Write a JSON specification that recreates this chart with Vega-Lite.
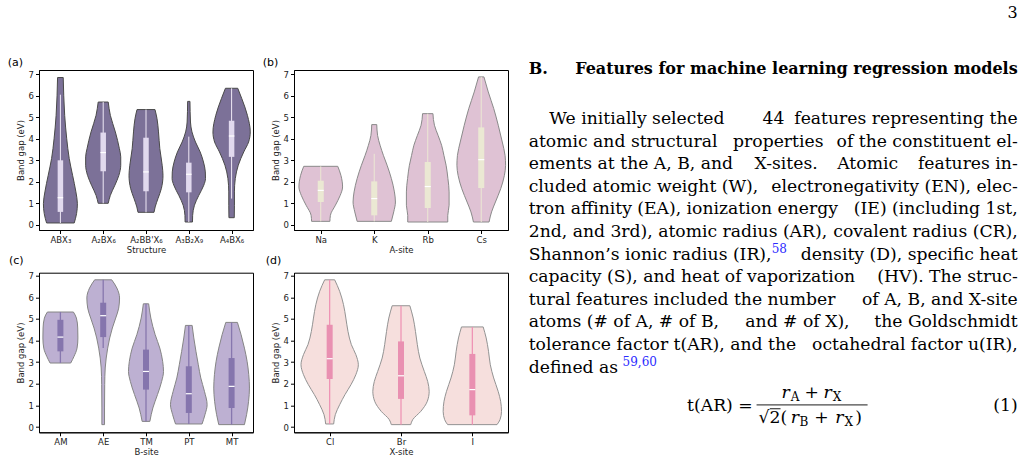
{
  "$schema": "https://vega.github.io/schema/vega-lite/v6.json",
  "background": "white",
  "padding": {"left": 7, "top": 5, "right": 0, "bottom": 0},
  "bounds": "flush",
  "columns": 3,
  "spacing": {"row": 42.7, "column": 41},
  "config": {
    "font": "DejaVu Sans",
    "view": {"stroke": "black", "strokeWidth": 1},
    "axis": {
      "grid": false, "domainColor": "black", "domainWidth": 1, "labelOverlap": false,
      "tickColor": "black", "tickWidth": 1, "tickSize": 3.5,
      "labelFont": "DejaVu Sans", "labelFontSize": 8.5, "labelColor": "#222222", "labelPadding": 2,
      "titleFont": "DejaVu Sans", "titleFontSize": 8.5, "titleFontWeight": "normal", "titleColor": "#222222"
    },
    "axisY": {"titlePadding": 3},
    "axisX": {"titlePadding": 1},
    "title": {"font": "DejaVu Sans", "fontSize": 11, "fontWeight": "normal", "anchor": "start", "frame": "group", "color": "black"}
  },
  "datasets": {
    "violin": [
      {"p":"a","c":0,"v":0.085,"lo":-0.323,"hi":0.323},{"p":"a","c":0,"v":0.52,"lo":-0.378,"hi":0.378},{"p":"a","c":0,"v":0.98,"lo":-0.397,"hi":0.397},{"p":"a","c":0,"v":1.53,"lo":-0.362,"hi":0.362},{"p":"a","c":0,"v":2.3,"lo":-0.285,"hi":0.285},{"p":"a","c":0,"v":3.08,"lo":-0.206,"hi":0.206},{"p":"a","c":0,"v":4.0,"lo":-0.148,"hi":0.148},{"p":"a","c":0,"v":5.09,"lo":-0.1,"hi":0.1},{"p":"a","c":0,"v":6.0,"lo":-0.078,"hi":0.078},{"p":"a","c":0,"v":6.85,"lo":-0.066,"hi":0.066},
      {"p":"a","c":1,"v":1.0,"lo":0.883,"hi":1.117},{"p":"a","c":1,"v":1.37,"lo":0.833,"hi":1.167},{"p":"a","c":1,"v":1.84,"lo":0.727,"hi":1.273},{"p":"a","c":1,"v":2.3,"lo":0.634,"hi":1.366},{"p":"a","c":1,"v":2.77,"lo":0.59,"hi":1.41},{"p":"a","c":1,"v":3.16,"lo":0.59,"hi":1.41},{"p":"a","c":1,"v":3.54,"lo":0.622,"hi":1.378},{"p":"a","c":1,"v":4.32,"lo":0.716,"hi":1.284},{"p":"a","c":1,"v":5.09,"lo":0.833,"hi":1.167},{"p":"a","c":1,"v":5.71,"lo":0.883,"hi":1.117},
      {"p":"a","c":2,"v":0.58,"lo":1.813,"hi":2.187},{"p":"a","c":2,"v":0.83,"lo":1.786,"hi":2.214},{"p":"a","c":2,"v":1.22,"lo":1.72,"hi":2.28},{"p":"a","c":2,"v":1.68,"lo":1.642,"hi":2.358},{"p":"a","c":2,"v":2.3,"lo":1.603,"hi":2.397},{"p":"a","c":2,"v":2.77,"lo":1.622,"hi":2.378},{"p":"a","c":2,"v":3.54,"lo":1.677,"hi":2.323},{"p":"a","c":2,"v":4.32,"lo":1.708,"hi":2.292},{"p":"a","c":2,"v":4.94,"lo":1.743,"hi":2.257},{"p":"a","c":2,"v":5.36,"lo":1.79,"hi":2.21},
      {"p":"a","c":3,"v":0.13,"lo":2.914,"hi":3.086},{"p":"a","c":3,"v":0.44,"lo":2.91,"hi":3.09},{"p":"a","c":3,"v":0.91,"lo":2.868,"hi":3.132},{"p":"a","c":3,"v":1.37,"lo":2.766,"hi":3.234},{"p":"a","c":3,"v":1.84,"lo":2.65,"hi":3.35},{"p":"a","c":3,"v":2.15,"lo":2.61,"hi":3.39},{"p":"a","c":3,"v":2.46,"lo":2.614,"hi":3.386},{"p":"a","c":3,"v":2.92,"lo":2.657,"hi":3.343},{"p":"a","c":3,"v":3.39,"lo":2.735,"hi":3.265},{"p":"a","c":3,"v":3.85,"lo":2.844,"hi":3.156},{"p":"a","c":3,"v":4.32,"lo":2.926,"hi":3.074},{"p":"a","c":3,"v":4.78,"lo":2.961,"hi":3.039},{"p":"a","c":3,"v":5.74,"lo":2.973,"hi":3.027},
      {"p":"a","c":4,"v":0.33,"lo":3.938,"hi":4.062},{"p":"a","c":4,"v":0.91,"lo":3.934,"hi":4.066},{"p":"a","c":4,"v":1.53,"lo":3.934,"hi":4.066},{"p":"a","c":4,"v":2.15,"lo":3.914,"hi":4.086},{"p":"a","c":4,"v":2.77,"lo":3.844,"hi":4.156},{"p":"a","c":4,"v":3.39,"lo":3.716,"hi":4.284},{"p":"a","c":4,"v":3.85,"lo":3.603,"hi":4.397},{"p":"a","c":4,"v":4.32,"lo":3.564,"hi":4.436},{"p":"a","c":4,"v":5.09,"lo":3.63,"hi":4.37},{"p":"a","c":4,"v":5.87,"lo":3.762,"hi":4.238},{"p":"a","c":4,"v":6.35,"lo":3.856,"hi":4.144},

      {"p":"b","c":0,"v":0.16,"lo":-0.171,"hi":0.171},{"p":"b","c":0,"v":0.44,"lo":-0.18,"hi":0.18},{"p":"b","c":0,"v":0.91,"lo":-0.274,"hi":0.274},{"p":"b","c":0,"v":1.37,"lo":-0.364,"hi":0.364},{"p":"b","c":0,"v":1.76,"lo":-0.408,"hi":0.408},{"p":"b","c":0,"v":2.3,"lo":-0.377,"hi":0.377},{"p":"b","c":0,"v":2.72,"lo":-0.318,"hi":0.318},
      {"p":"b","c":1,"v":0.16,"lo":0.68,"hi":1.32},{"p":"b","c":1,"v":0.6,"lo":0.636,"hi":1.364},{"p":"b","c":1,"v":1.06,"lo":0.604,"hi":1.396},{"p":"b","c":1,"v":1.53,"lo":0.623,"hi":1.377},{"p":"b","c":1,"v":2.15,"lo":0.68,"hi":1.32},{"p":"b","c":1,"v":2.77,"lo":0.76,"hi":1.24},{"p":"b","c":1,"v":3.23,"lo":0.829,"hi":1.171},{"p":"b","c":1,"v":3.7,"lo":0.891,"hi":1.109},{"p":"b","c":1,"v":4.16,"lo":0.938,"hi":1.062},{"p":"b","c":1,"v":4.66,"lo":0.953,"hi":1.047},
      {"p":"b","c":2,"v":0.13,"lo":1.626,"hi":2.374},{"p":"b","c":2,"v":0.44,"lo":1.626,"hi":2.374},{"p":"b","c":2,"v":0.91,"lo":1.601,"hi":2.399},{"p":"b","c":2,"v":1.53,"lo":1.601,"hi":2.399},{"p":"b","c":2,"v":2.15,"lo":1.623,"hi":2.377},{"p":"b","c":2,"v":2.77,"lo":1.657,"hi":2.343},{"p":"b","c":2,"v":3.23,"lo":1.698,"hi":2.302},{"p":"b","c":2,"v":3.7,"lo":1.741,"hi":2.259},{"p":"b","c":2,"v":4.16,"lo":1.807,"hi":2.193},{"p":"b","c":2,"v":4.63,"lo":1.875,"hi":2.125},{"p":"b","c":2,"v":5.17,"lo":1.903,"hi":2.097},
      {"p":"b","c":3,"v":0.13,"lo":2.854,"hi":3.146},{"p":"b","c":3,"v":0.6,"lo":2.807,"hi":3.193},{"p":"b","c":3,"v":1.06,"lo":2.735,"hi":3.265},{"p":"b","c":3,"v":1.68,"lo":2.636,"hi":3.364},{"p":"b","c":3,"v":2.3,"lo":2.567,"hi":3.433},{"p":"b","c":3,"v":2.77,"lo":2.545,"hi":3.455},{"p":"b","c":3,"v":3.23,"lo":2.555,"hi":3.445},{"p":"b","c":3,"v":3.85,"lo":2.607,"hi":3.393},{"p":"b","c":3,"v":4.63,"lo":2.682,"hi":3.318},{"p":"b","c":3,"v":5.4,"lo":2.766,"hi":3.234},{"p":"b","c":3,"v":6.18,"lo":2.869,"hi":3.131},{"p":"b","c":3,"v":6.88,"lo":2.95,"hi":3.05},

      {"p":"c","c":0,"v":2.96,"lo":-0.241,"hi":0.241},{"p":"c","c":0,"v":3.27,"lo":-0.319,"hi":0.319},{"p":"c","c":0,"v":3.65,"lo":-0.389,"hi":0.389},{"p":"c","c":0,"v":4.12,"lo":-0.409,"hi":0.409},{"p":"c","c":0,"v":4.58,"lo":-0.405,"hi":0.405},{"p":"c","c":0,"v":5.04,"lo":-0.374,"hi":0.374},{"p":"c","c":0,"v":5.32,"lo":-0.304,"hi":0.304},
      {"p":"c","c":1,"v":0.11,"lo":0.969,"hi":1.031},{"p":"c","c":1,"v":0.88,"lo":0.969,"hi":1.031},{"p":"c","c":1,"v":1.96,"lo":0.965,"hi":1.035},{"p":"c","c":1,"v":2.73,"lo":0.953,"hi":1.047},{"p":"c","c":1,"v":3.19,"lo":0.93,"hi":1.07},{"p":"c","c":1,"v":3.65,"lo":0.895,"hi":1.105},{"p":"c","c":1,"v":4.12,"lo":0.848,"hi":1.152},{"p":"c","c":1,"v":4.58,"lo":0.786,"hi":1.214},{"p":"c","c":1,"v":5.04,"lo":0.708,"hi":1.292},{"p":"c","c":1,"v":5.5,"lo":0.638,"hi":1.362},{"p":"c","c":1,"v":5.97,"lo":0.618,"hi":1.382},{"p":"c","c":1,"v":6.43,"lo":0.681,"hi":1.319},{"p":"c","c":1,"v":6.81,"lo":0.801,"hi":1.199},
      {"p":"c","c":2,"v":0.26,"lo":1.91,"hi":2.09},{"p":"c","c":2,"v":0.88,"lo":1.84,"hi":2.16},{"p":"c","c":2,"v":1.5,"lo":1.731,"hi":2.269},{"p":"c","c":2,"v":2.11,"lo":1.634,"hi":2.366},{"p":"c","c":2,"v":2.57,"lo":1.591,"hi":2.409},{"p":"c","c":2,"v":3.04,"lo":1.611,"hi":2.389},{"p":"c","c":2,"v":3.65,"lo":1.677,"hi":2.323},{"p":"c","c":2,"v":4.27,"lo":1.786,"hi":2.214},{"p":"c","c":2,"v":5.04,"lo":1.887,"hi":2.113},{"p":"c","c":2,"v":5.7,"lo":1.938,"hi":2.062},
      {"p":"c","c":3,"v":0.14,"lo":2.69,"hi":3.31},{"p":"c","c":3,"v":0.57,"lo":2.622,"hi":3.378},{"p":"c","c":3,"v":1.03,"lo":2.572,"hi":3.428},{"p":"c","c":3,"v":1.65,"lo":2.634,"hi":3.366},{"p":"c","c":3,"v":2.27,"lo":2.72,"hi":3.28},{"p":"c","c":3,"v":2.88,"lo":2.778,"hi":3.222},{"p":"c","c":3,"v":3.5,"lo":2.833,"hi":3.167},{"p":"c","c":3,"v":4.12,"lo":2.883,"hi":3.117},{"p":"c","c":3,"v":4.7,"lo":2.922,"hi":3.078},
      {"p":"c","c":4,"v":0.11,"lo":3.7,"hi":4.3},{"p":"c","c":4,"v":0.57,"lo":3.65,"hi":4.35},{"p":"c","c":4,"v":1.19,"lo":3.603,"hi":4.397},{"p":"c","c":4,"v":1.8,"lo":3.583,"hi":4.417},{"p":"c","c":4,"v":2.42,"lo":3.599,"hi":4.401},{"p":"c","c":4,"v":3.04,"lo":3.638,"hi":4.362},{"p":"c","c":4,"v":3.65,"lo":3.7,"hi":4.3},{"p":"c","c":4,"v":4.27,"lo":3.778,"hi":4.222},{"p":"c","c":4,"v":4.84,"lo":3.864,"hi":4.136},

      {"p":"d","c":0,"v":0.14,"lo":-0.056,"hi":0.056},{"p":"d","c":0,"v":0.57,"lo":-0.079,"hi":0.079},{"p":"d","c":0,"v":1.03,"lo":-0.14,"hi":0.14},{"p":"d","c":0,"v":1.5,"lo":-0.215,"hi":0.215},{"p":"d","c":0,"v":1.96,"lo":-0.299,"hi":0.299},{"p":"d","c":0,"v":2.42,"lo":-0.367,"hi":0.367},{"p":"d","c":0,"v":2.88,"lo":-0.402,"hi":0.402},{"p":"d","c":0,"v":3.35,"lo":-0.367,"hi":0.367},{"p":"d","c":0,"v":3.81,"lo":-0.304,"hi":0.304},{"p":"d","c":0,"v":4.42,"lo":-0.257,"hi":0.257},{"p":"d","c":0,"v":5.04,"lo":-0.227,"hi":0.227},{"p":"d","c":0,"v":5.66,"lo":-0.194,"hi":0.194},{"p":"d","c":0,"v":6.28,"lo":-0.14,"hi":0.14},{"p":"d","c":0,"v":6.81,"lo":-0.07,"hi":0.07},
      {"p":"d","c":1,"v":0.11,"lo":0.864,"hi":1.136},{"p":"d","c":1,"v":0.34,"lo":0.836,"hi":1.164},{"p":"d","c":1,"v":0.72,"lo":0.724,"hi":1.276},{"p":"d","c":1,"v":1.19,"lo":0.631,"hi":1.369},{"p":"d","c":1,"v":1.65,"lo":0.605,"hi":1.395},{"p":"d","c":1,"v":2.11,"lo":0.626,"hi":1.374},{"p":"d","c":1,"v":2.57,"lo":0.673,"hi":1.327},{"p":"d","c":1,"v":3.19,"lo":0.736,"hi":1.264},{"p":"d","c":1,"v":3.81,"lo":0.771,"hi":1.229},{"p":"d","c":1,"v":4.42,"lo":0.797,"hi":1.203},{"p":"d","c":1,"v":5.04,"lo":0.829,"hi":1.171},{"p":"d","c":1,"v":5.61,"lo":0.876,"hi":1.124},
      {"p":"d","c":2,"v":0.11,"lo":1.654,"hi":2.346},{"p":"d","c":2,"v":0.34,"lo":1.612,"hi":2.388},{"p":"d","c":2,"v":0.72,"lo":1.591,"hi":2.409},{"p":"d","c":2,"v":1.19,"lo":1.603,"hi":2.397},{"p":"d","c":2,"v":1.65,"lo":1.638,"hi":2.362},{"p":"d","c":2,"v":2.27,"lo":1.701,"hi":2.299},{"p":"d","c":2,"v":2.88,"lo":1.748,"hi":2.252},{"p":"d","c":2,"v":3.5,"lo":1.773,"hi":2.227},{"p":"d","c":2,"v":4.12,"lo":1.806,"hi":2.194},{"p":"d","c":2,"v":4.63,"lo":1.848,"hi":2.152}
    ],
    "box": [
      {"p":"a","c":0,"q1":0.6,"q3":3.0,"med":1.26,"wlo":0.085,"whi":6.05},
      {"p":"a","c":1,"q1":2.49,"q3":4.29,"med":3.36,"wlo":1.0,"whi":5.71},
      {"p":"a","c":2,"q1":1.56,"q3":4.05,"med":2.46,"wlo":0.58,"whi":5.36},
      {"p":"a","c":3,"q1":1.51,"q3":2.89,"med":2.35,"wlo":0.13,"whi":4.1},
      {"p":"a","c":4,"q1":3.16,"q3":4.84,"med":4.13,"wlo":1.22,"whi":6.35},
      {"p":"b","c":0,"q1":1.06,"q3":2.05,"med":1.6,"wlo":0.16,"whi":2.72},
      {"p":"b","c":1,"q1":0.44,"q3":2.02,"med":1.22,"wlo":0.16,"whi":3.3},
      {"p":"b","c":2,"q1":0.78,"q3":2.92,"med":1.78,"wlo":0.13,"whi":5.17},
      {"p":"b","c":3,"q1":1.71,"q3":4.53,"med":3.03,"wlo":0.13,"whi":6.88},
      {"p":"c","c":0,"q1":3.5,"q3":4.96,"med":4.16,"wlo":2.96,"whi":5.32},
      {"p":"c","c":1,"q1":4.16,"q3":5.75,"med":5.15,"wlo":3.65,"whi":6.81},
      {"p":"c","c":2,"q1":1.73,"q3":3.58,"med":2.57,"wlo":0.26,"whi":5.7},
      {"p":"c","c":3,"q1":0.65,"q3":2.81,"med":1.54,"wlo":0.14,"whi":4.7},
      {"p":"c","c":4,"q1":0.88,"q3":3.19,"med":1.88,"wlo":0.11,"whi":4.84},
      {"p":"d","c":0,"q1":2.22,"q3":4.73,"med":3.16,"wlo":0.14,"whi":6.81},
      {"p":"d","c":1,"q1":1.3,"q3":3.96,"med":2.37,"wlo":0.11,"whi":5.61},
      {"p":"d","c":2,"q1":0.54,"q3":3.38,"med":1.73,"wlo":0.11,"whi":4.63}
    ],
    "body": [
      {"line":0,"l":"\u2060\u2003\u2009We initially selected","r":"features representing the"},
      {"line":1,"l":"atomic and structural","r":"of the constituent el-"},
      {"line":2,"l":"ements at the A, B, and","r":"features in-"},
      {"line":3,"l":"cluded atomic weight (W),","r":"electronegativity (EN), elec-"},
      {"line":4,"l":"tron affinity (EA), ionization energy","r":"(IE) (including 1st,"},
      {"line":5,"l":"2nd, and 3rd), atomic radius (AR),","r":"covalent radius (CR),"},
      {"line":6,"l":"Shannon’s ionic radius (IR),","r":"density (D), specific heat"},
      {"line":7,"l":"capacity (S), and heat of vaporization","r":"(HV). The struc-"},
      {"line":8,"l":"tural features included the number","r":"of A, B, and X-site"},
      {"line":9,"l":"atoms (# of A, # of B,","r":"the Goldschmidt"},
      {"line":10,"l":"tolerance factor t(AR), and the","r":"octahedral factor u(IR),"},
      {"line":11,"l":"defined as","r":""}
    ],
    "mid": [
      {"line":0,"t":"44","col":0.478},
      {"line":1,"t":"properties","col":0.418},
      {"line":2,"t":"X-sites.","col":0.462},
      {"line":2,"t":"Atomic","col":0.631},
      {"line":9,"t":"and # of X),","col":0.443}
    ],
    "sup": [
      {"line":6,"t":"58","col":0.497},
      {"line":11,"t":"59,60","col":0.192}
    ],
    "eq": [
      {"k":"nr","t":"t(AR) =","col":0.458,"ln":12.7},
      {"k":"nr","t":"(1)","col":1,"ln":12.7},
      {"k":"i","t":"r","col":0.517,"ln":12.12},
      {"k":"s","t":"A","col":0.536,"ln":12.12},
      {"k":"n","t":"+","col":0.564,"ln":12.12},
      {"k":"i","t":"r","col":0.603,"ln":12.12},
      {"k":"s","t":"X","col":0.622,"ln":12.12},
      {"k":"n","t":"√2(","col":0.47,"ln":13.23},
      {"k":"i","t":"r","col":0.536,"ln":13.23},
      {"k":"s","t":"B","col":0.554,"ln":13.23},
      {"k":"n","t":"+","col":0.584,"ln":13.23},
      {"k":"i","t":"r","col":0.627,"ln":13.23},
      {"k":"s","t":"X","col":0.646,"ln":13.23},
      {"k":"n","t":")","col":0.668,"ln":13.23}
    ],
    "bar": [
      {"col":0.466,"col2":0.693,"ln":12.43},
      {"col":0.493,"col2":0.515,"ln":12.6}
    ]
  },
  "concat": [
    {
      "width": 214, "height": 160,
      "title": {"text": "(a)", "dx": -31.3, "offset": 2},
      "layer": [
        {"data": {"name": "violin"}, "transform": [{"filter": "datum.p === 'a'"}],
         "mark": {"type": "area", "orient": "horizontal", "interpolate": "monotone", "fill": "#7c7198", "stroke": "#4a4a4a", "strokeWidth": 1},
         "encoding": {
           "y": {"field": "v", "type": "quantitative", "title": "Band gap (eV)", "scale": {"domain": [-0.242, 7.2], "nice": false, "zero": false}, "axis": {"values": [0,1,2,3,4,5,6,7]}},
           "x": {"field": "lo", "type": "quantitative", "title": "Structure", "scale": {"domain": [-0.5, 4.5], "nice": false, "zero": false}, "axis": {"values": [0,1,2,3,4], "labelExpr": "[\"ABX₃\",\"A₂BX₆\",\"A₂BB'X₆\",\"A₃B₂X₉\",\"A₄BX₆\"][datum.value]"}},
           "x2": {"field": "hi"},
           "detail": {"field": "c", "type": "nominal"}
         }},
        {"data": {"name": "box"}, "transform": [{"filter": "datum.p === 'a'"}],
         "mark": {"type": "rule", "color": "#efe9f6", "strokeWidth": 1},
         "encoding": {"x": {"field": "c", "type": "quantitative", "title": "Structure", "axis": {"values": [0,1,2,3,4], "labelExpr": "[\"ABX₃\",\"A₂BX₆\",\"A₂BB'X₆\",\"A₃B₂X₉\",\"A₄BX₆\"][datum.value]"}}, "y": {"field": "wlo", "type": "quantitative", "title": "Band gap (eV)", "axis": {"values": [0,1,2,3,4,5,6,7]}}, "y2": {"field": "whi"}}},
        {"data": {"name": "box"}, "transform": [{"filter": "datum.p === 'a'"}],
         "mark": {"type": "rule", "color": "#e1d9ee", "strokeWidth": 5.5, "strokeCap": "butt"},
         "encoding": {"x": {"field": "c", "type": "quantitative", "title": "Structure", "axis": {"values": [0,1,2,3,4], "labelExpr": "[\"ABX₃\",\"A₂BX₆\",\"A₂BB'X₆\",\"A₃B₂X₉\",\"A₄BX₆\"][datum.value]"}}, "y": {"field": "q1", "type": "quantitative", "title": "Band gap (eV)", "axis": {"values": [0,1,2,3,4,5,6,7]}}, "y2": {"field": "q3"}}},
        {"data": {"name": "box"}, "transform": [{"filter": "datum.p === 'a'"}],
         "mark": {"type": "tick", "orient": "horizontal", "color": "white", "size": 5.5, "thickness": 1.2, "opacity": 1},
         "encoding": {"x": {"field": "c", "type": "quantitative", "title": "Structure", "axis": {"values": [0,1,2,3,4], "labelExpr": "[\"ABX₃\",\"A₂BX₆\",\"A₂BB'X₆\",\"A₃B₂X₉\",\"A₄BX₆\"][datum.value]"}}, "y": {"field": "med", "type": "quantitative", "title": "Band gap (eV)", "axis": {"values": [0,1,2,3,4,5,6,7]}}}}
      ]
    },
    {
      "width": 214, "height": 160,
      "title": {"text": "(b)", "dx": -31.3, "offset": 2},
      "layer": [
        {"data": {"name": "violin"}, "transform": [{"filter": "datum.p === 'b'"}],
         "mark": {"type": "area", "orient": "horizontal", "interpolate": "monotone", "fill": "#dfc2d4", "stroke": "#8a8a8a", "strokeWidth": 1},
         "encoding": {
           "y": {"field": "v", "type": "quantitative", "title": "Band gap (eV)", "scale": {"domain": [-0.242, 7.2], "nice": false, "zero": false}, "axis": {"values": [0,1,2,3,4,5,6,7]}},
           "x": {"field": "lo", "type": "quantitative", "title": "A-site", "scale": {"domain": [-0.5, 3.5], "nice": false, "zero": false}, "axis": {"values": [0,1,2,3], "labelExpr": "[\"Na\",\"K\",\"Rb\",\"Cs\"][datum.value]"}},
           "x2": {"field": "hi"},
           "detail": {"field": "c", "type": "nominal"}
         }},
        {"data": {"name": "box"}, "transform": [{"filter": "datum.p === 'b'"}],
         "mark": {"type": "rule", "color": "#ece8d3", "strokeWidth": 1},
         "encoding": {"x": {"field": "c", "type": "quantitative", "title": "A-site", "axis": {"values": [0,1,2,3], "labelExpr": "[\"Na\",\"K\",\"Rb\",\"Cs\"][datum.value]"}}, "y": {"field": "wlo", "type": "quantitative", "title": "Band gap (eV)", "axis": {"values": [0,1,2,3,4,5,6,7]}}, "y2": {"field": "whi"}}},
        {"data": {"name": "box"}, "transform": [{"filter": "datum.p === 'b'"}],
         "mark": {"type": "rule", "color": "#ebe8d3", "strokeWidth": 6, "strokeCap": "butt"},
         "encoding": {"x": {"field": "c", "type": "quantitative", "title": "A-site", "axis": {"values": [0,1,2,3], "labelExpr": "[\"Na\",\"K\",\"Rb\",\"Cs\"][datum.value]"}}, "y": {"field": "q1", "type": "quantitative", "title": "Band gap (eV)", "axis": {"values": [0,1,2,3,4,5,6,7]}}, "y2": {"field": "q3"}}},
        {"data": {"name": "box"}, "transform": [{"filter": "datum.p === 'b'"}],
         "mark": {"type": "tick", "orient": "horizontal", "color": "white", "size": 6, "thickness": 1.2, "opacity": 1},
         "encoding": {"x": {"field": "c", "type": "quantitative", "title": "A-site", "axis": {"values": [0,1,2,3], "labelExpr": "[\"Na\",\"K\",\"Rb\",\"Cs\"][datum.value]"}}, "y": {"field": "med", "type": "quantitative", "title": "Band gap (eV)", "axis": {"values": [0,1,2,3,4,5,6,7]}}}}
      ]
    },
    {
      "width": 468.7, "height": 160,
      "view": {"stroke": null},
      "layer": [
        {"data": {"values": [{"t": "3"}]},
         "mark": {"type": "text", "font": "DejaVu Serif", "fontSize": 16, "align": "right", "baseline": "alphabetic", "color": "black"},
         "encoding": {
           "x": {"datum": 1, "type": "quantitative", "scale": {"domain": [0.0415, 1], "nice": false, "zero": false}, "axis": null},
           "y": {"datum": -4.69, "type": "quantitative", "scale": {"domain": [-2.39, 4.69], "reverse": true, "nice": false, "zero": false}, "axis": null},
           "text": {"field": "t"}
         }},
        {"data": {"values": [{"t": "B."}]},
         "mark": {"type": "text", "font": "DejaVu Serif", "fontSize": 16, "fontWeight": "bold", "align": "left", "baseline": "alphabetic", "color": "black"},
         "encoding": {"x": {"datum": 0, "type": "quantitative"}, "y": {"datum": -2.21, "type": "quantitative"}, "text": {"field": "t"}}},
        {"data": {"values": [{"t": "Features for machine learning regression models"}]},
         "mark": {"type": "text", "font": "DejaVu Serif", "fontSize": 16, "fontWeight": "bold", "align": "right", "baseline": "alphabetic", "color": "black"},
         "encoding": {"x": {"datum": 1, "type": "quantitative"}, "y": {"datum": -2.21, "type": "quantitative"}, "text": {"field": "t"}}},
        {"data": {"name": "body"},
         "mark": {"type": "text", "font": "DejaVu Serif", "fontSize": 17.2, "align": "left", "baseline": "alphabetic", "color": "black"},
         "encoding": {"x": {"datum": 0, "type": "quantitative"}, "y": {"field": "line", "type": "quantitative"}, "text": {"field": "l"}}},
        {"data": {"name": "mid"},
         "mark": {"type": "text", "font": "DejaVu Serif", "fontSize": 17.2, "align": "left", "baseline": "alphabetic", "color": "black"},
         "encoding": {"x": {"field": "col", "type": "quantitative"}, "y": {"field": "line", "type": "quantitative"}, "text": {"field": "t"}}},
        {"data": {"name": "body"},
         "mark": {"type": "text", "font": "DejaVu Serif", "fontSize": 17.2, "align": "right", "baseline": "alphabetic", "color": "black"},
         "encoding": {"x": {"datum": 1, "type": "quantitative"}, "y": {"field": "line", "type": "quantitative"}, "text": {"field": "r"}}},
        {"data": {"name": "sup"},
         "mark": {"type": "text", "font": "DejaVu Serif", "fontSize": 12, "align": "left", "baseline": "alphabetic", "dy": -7, "color": "#2b2bff"},
         "encoding": {"x": {"field": "col", "type": "quantitative"}, "y": {"field": "line", "type": "quantitative"}, "text": {"field": "t"}}},
        {"data": {"name": "eq"}, "transform": [{"filter": "datum.k === 'nr'"}],
         "mark": {"type": "text", "font": "DejaVu Serif", "fontSize": 17.2, "align": "right", "baseline": "alphabetic", "color": "black"},
         "encoding": {"x": {"field": "col", "type": "quantitative"}, "y": {"field": "ln", "type": "quantitative"}, "text": {"field": "t"}}},
        {"data": {"name": "eq"}, "transform": [{"filter": "datum.k === 'n'"}],
         "mark": {"type": "text", "font": "DejaVu Serif", "fontSize": 17.2, "align": "left", "baseline": "alphabetic", "color": "black"},
         "encoding": {"x": {"field": "col", "type": "quantitative"}, "y": {"field": "ln", "type": "quantitative"}, "text": {"field": "t"}}},
        {"data": {"name": "eq"}, "transform": [{"filter": "datum.k === 'i'"}],
         "mark": {"type": "text", "font": "DejaVu Serif", "fontSize": 17.2, "fontStyle": "italic", "align": "left", "baseline": "alphabetic", "color": "black"},
         "encoding": {"x": {"field": "col", "type": "quantitative"}, "y": {"field": "ln", "type": "quantitative"}, "text": {"field": "t"}}},
        {"data": {"name": "eq"}, "transform": [{"filter": "datum.k === 's'"}],
         "mark": {"type": "text", "font": "DejaVu Serif", "fontSize": 12, "align": "left", "baseline": "alphabetic", "dy": 3, "color": "black"},
         "encoding": {"x": {"field": "col", "type": "quantitative"}, "y": {"field": "ln", "type": "quantitative"}, "text": {"field": "t"}}},
        {"data": {"name": "bar"},
         "mark": {"type": "rule", "color": "black", "strokeWidth": 0.9},
         "encoding": {"x": {"field": "col", "type": "quantitative"}, "x2": {"field": "col2"}, "y": {"field": "ln", "type": "quantitative"}}}
      ]
    },
    {
      "width": 214, "height": 159.6,
      "title": {"text": "(c)", "dx": -30, "offset": 6},
      "layer": [
        {"data": {"name": "violin"}, "transform": [{"filter": "datum.p === 'c'"}],
         "mark": {"type": "area", "orient": "horizontal", "interpolate": "monotone", "fill": "#bdb0d2", "stroke": "#858585", "strokeWidth": 1},
         "encoding": {
           "y": {"field": "v", "type": "quantitative", "title": "Band gap (eV)", "scale": {"domain": [-0.245, 7.139], "nice": false, "zero": false}, "axis": {"values": [0,1,2,3,4,5,6,7]}},
           "x": {"field": "lo", "type": "quantitative", "title": "B-site", "scale": {"domain": [-0.5, 4.5], "nice": false, "zero": false}, "axis": {"values": [0,1,2,3,4], "labelExpr": "[\"AM\",\"AE\",\"TM\",\"PT\",\"MT\"][datum.value]"}},
           "x2": {"field": "hi"},
           "detail": {"field": "c", "type": "nominal"}
         }},
        {"data": {"name": "box"}, "transform": [{"filter": "datum.p === 'c'"}],
         "mark": {"type": "rule", "color": "#8777ae", "strokeWidth": 1.3},
         "encoding": {"x": {"field": "c", "type": "quantitative", "title": "B-site", "axis": {"values": [0,1,2,3,4], "labelExpr": "[\"AM\",\"AE\",\"TM\",\"PT\",\"MT\"][datum.value]"}}, "y": {"field": "wlo", "type": "quantitative", "title": "Band gap (eV)", "axis": {"values": [0,1,2,3,4,5,6,7]}}, "y2": {"field": "whi"}}},
        {"data": {"name": "box"}, "transform": [{"filter": "datum.p === 'c'"}],
         "mark": {"type": "rule", "color": "#8575ad", "strokeWidth": 6, "strokeCap": "butt"},
         "encoding": {"x": {"field": "c", "type": "quantitative", "title": "B-site", "axis": {"values": [0,1,2,3,4], "labelExpr": "[\"AM\",\"AE\",\"TM\",\"PT\",\"MT\"][datum.value]"}}, "y": {"field": "q1", "type": "quantitative", "title": "Band gap (eV)", "axis": {"values": [0,1,2,3,4,5,6,7]}}, "y2": {"field": "q3"}}},
        {"data": {"name": "box"}, "transform": [{"filter": "datum.p === 'c'"}],
         "mark": {"type": "tick", "orient": "horizontal", "color": "white", "size": 6, "thickness": 1.2, "opacity": 1},
         "encoding": {"x": {"field": "c", "type": "quantitative", "title": "B-site", "axis": {"values": [0,1,2,3,4], "labelExpr": "[\"AM\",\"AE\",\"TM\",\"PT\",\"MT\"][datum.value]"}}, "y": {"field": "med", "type": "quantitative", "title": "Band gap (eV)", "axis": {"values": [0,1,2,3,4,5,6,7]}}}}
      ]
    },
    {
      "width": 214, "height": 159.6,
      "title": {"text": "(d)", "dx": -28.3, "offset": 6},
      "layer": [
        {"data": {"name": "violin"}, "transform": [{"filter": "datum.p === 'd'"}],
         "mark": {"type": "area", "orient": "horizontal", "interpolate": "monotone", "fill": "#f6dfdd", "stroke": "#939393", "strokeWidth": 1},
         "encoding": {
           "y": {"field": "v", "type": "quantitative", "title": "Band gap (eV)", "scale": {"domain": [-0.245, 7.139], "nice": false, "zero": false}, "axis": {"values": [0,1,2,3,4,5,6,7]}},
           "x": {"field": "lo", "type": "quantitative", "title": "X-site", "scale": {"domain": [-0.5, 2.5], "nice": false, "zero": false}, "axis": {"values": [0,1,2], "labelExpr": "[\"Cl\",\"Br\",\"I\"][datum.value]"}},
           "x2": {"field": "hi"},
           "detail": {"field": "c", "type": "nominal"}
         }},
        {"data": {"name": "box"}, "transform": [{"filter": "datum.p === 'd'"}],
         "mark": {"type": "rule", "color": "#ee8fb2", "strokeWidth": 1.2},
         "encoding": {"x": {"field": "c", "type": "quantitative", "title": "X-site", "axis": {"values": [0,1,2], "labelExpr": "[\"Cl\",\"Br\",\"I\"][datum.value]"}}, "y": {"field": "wlo", "type": "quantitative", "title": "Band gap (eV)", "axis": {"values": [0,1,2,3,4,5,6,7]}}, "y2": {"field": "whi"}}},
        {"data": {"name": "box"}, "transform": [{"filter": "datum.p === 'd'"}],
         "mark": {"type": "rule", "color": "#e990b1", "strokeWidth": 6, "strokeCap": "butt"},
         "encoding": {"x": {"field": "c", "type": "quantitative", "title": "X-site", "axis": {"values": [0,1,2], "labelExpr": "[\"Cl\",\"Br\",\"I\"][datum.value]"}}, "y": {"field": "q1", "type": "quantitative", "title": "Band gap (eV)", "axis": {"values": [0,1,2,3,4,5,6,7]}}, "y2": {"field": "q3"}}},
        {"data": {"name": "box"}, "transform": [{"filter": "datum.p === 'd'"}],
         "mark": {"type": "tick", "orient": "horizontal", "color": "white", "size": 6, "thickness": 1.2, "opacity": 1},
         "encoding": {"x": {"field": "c", "type": "quantitative", "title": "X-site", "axis": {"values": [0,1,2], "labelExpr": "[\"Cl\",\"Br\",\"I\"][datum.value]"}}, "y": {"field": "med", "type": "quantitative", "title": "Band gap (eV)", "axis": {"values": [0,1,2,3,4,5,6,7]}}}}
      ]
    }
  ]
}
